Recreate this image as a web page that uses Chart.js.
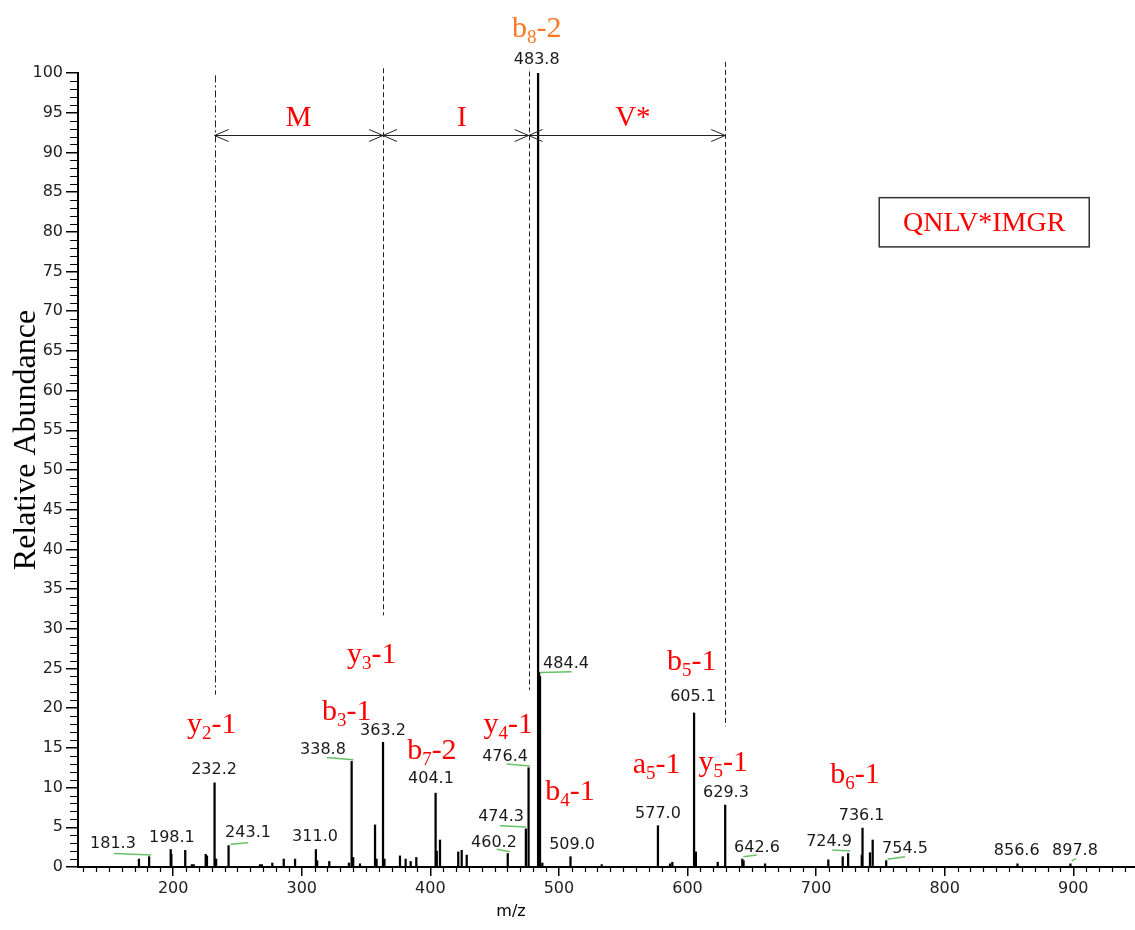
<!DOCTYPE html>
<html>
<head>
<meta charset="utf-8">
<script src="https://cdn.jsdelivr.net/npm/chart.js@4.4.1/dist/chart.umd.min.js"></script>
<style>
  html, body { margin: 0; padding: 0; background: #fff; }
</style>
</head>
<body>
<canvas id="myChart" width="1135" height="930"></canvas>
<script>
// peaks of the spectrum (m/z, relative abundance)
const peakMz = [173.4, 181.3, 198.1, 198.6, 209.4, 214.5, 216.0, 225.3, 226.3, 232.2, 233.4, 243.1,
  267.5, 269.0, 277.1, 286.0, 294.8, 311.0, 312.0, 321.4, 336.7, 338.8, 340.0, 345.3, 357.0, 358.2,
  363.2, 364.3, 376.4, 380.8, 384.7, 389.1, 404.1, 405.0, 407.5, 421.7, 424.4, 428.3, 460.2, 474.3,
  476.4, 483.8, 484.6, 485.3, 487.1, 509.0, 533.3, 577.0, 586.4, 588.2, 605.1, 606.5, 623.5, 629.3,
  642.6, 643.6, 660.3, 709.5, 720.7, 724.9, 735.5, 736.1, 741.9, 744.0, 754.5, 856.6, 897.8];
const peakAbund = [1.0, 1.3, 2.2, 1.6, 2.1, 0.3, 0.3, 1.6, 1.4, 10.6, 1.0, 2.7,
  0.3, 0.3, 0.5, 1.0, 1.0, 2.2, 0.8, 0.7, 0.5, 13.3, 1.2, 0.4, 5.3, 1.0,
  15.7, 1.0, 1.4, 1.0, 0.7, 1.2, 9.3, 2.0, 3.4, 1.9, 2.1, 1.5, 1.7, 4.8,
  12.5, 100, 24.5, 24.0, 0.5, 1.3, 0.3, 5.2, 0.4, 0.6, 19.4, 1.9, 0.6, 7.8,
  1.0, 0.8, 0.4, 0.9, 1.3, 1.7, 1.5, 4.9, 1.8, 3.4, 0.8, 0.4, 0.4];

const xTicks = [200, 300, 400, 500, 600, 700, 800, 900];
const yTicks = [0, 5, 10, 15, 20, 25, 30, 35, 40, 45, 50, 55, 60, 65, 70, 75, 80, 85, 90, 95, 100];

// peak m/z labels, placed in data units
const peakLabels = ['483.8', '484.4', '232.2', '338.8', '363.2', '404.1', '476.4', '474.3', '460.2', '509.0',
  '577.0', '605.1', '629.3', '642.6', '724.9', '736.1', '754.5', '856.6', '897.8', '181.3', '198.1', '243.1', '311.0'];
const peakLabelMz = [482.7, 505.5, 231.8, 316.5, 363.2, 400.5, 458.1, 455.0, 449.5, 510.2,
  577.0, 604.3, 629.9, 654.0, 710.1, 735.4, 769.1, 856.0, 901.3, 153.2, 199.0, 258.2, 310.3];
const peakLabelY = [101.7, 25.6, 12.2, 14.7, 17.2, 11.1, 13.9, 6.3, 3.0, 2.8,
  6.7, 21.4, 9.4, 2.4, 3.2, 6.4, 2.3, 2.0, 2.0, 2.9, 3.7, 4.3, 3.8];

// green connector marks under some labels [mz1, y1, mz2, y2]
const connectors = [[154.0, 1.70, 182.8, 1.51], [244.7, 2.86, 258.4, 3.06], [319.4, 13.8, 340.1, 13.5],
  [459.4, 12.97, 477.5, 12.72], [454.2, 5.2, 474.4, 5.04], [451.6, 2.23, 461.9, 1.93],
  [485.3, 24.5, 509.9, 24.6], [643.4, 1.30, 653.8, 1.51], [712.6, 2.14, 726.4, 2.02],
  [755.4, 0.97, 769.1, 1.30], [898.8, 0.76, 902.1, 1.05]];

// fragment ion names
const ionBase = ['b', 'y', 'y', 'b', 'b', 'y', 'b', 'a', 'y', 'b', 'b'];
const ionSub = ['8', '3', '2', '3', '7', '4', '4', '5', '5', '5', '6'];
const ionSuffix = ['-2', '-1', '-1', '-1', '-2', '-1', '-1', '-1', '-1', '-1', '-1'];
const ionMz = [482.7, 354.4, 230.0, 335.0, 401.2, 460.6, 508.6, 576.0, 627.8, 603.3, 730.2];
const ionY = [105.8, 26.9, 18.1, 19.8, 14.9, 18.1, 9.7, 13.1, 13.3, 26.1, 11.8];
const ionColor = ['#ff7722', 'red', 'red', 'red', 'red', 'red', 'red', 'red', 'red', 'red', 'red'];

// sequence ladder
const ladderMz = [232.2, 363.2, 476.4, 629.3];
const ladderTop = [99.7, 100.6, 100.2, 101.4];
const ladderBottom = [21.7, 31.7, 22.3, 17.7];
const residues = ['M', 'I', 'V*'];
const residueMz = [297.5, 424.5, 557.5];
const residueY = 94.3;
const arrowY = 92.2;

const sequence = 'QNLV*IMGR';

const peakData = peakMz.map((m, i) => ({ x: m, y: peakAbund[i] }));

function drawIon(ctx, i, cx, cy) {
  const big = '30px "Liberation Serif", "Times New Roman", serif';
  const small = '19px "Liberation Serif", "Times New Roman", serif';
  ctx.font = big;
  const w1 = ctx.measureText(ionBase[i]).width;
  const w3 = ctx.measureText(ionSuffix[i]).width;
  ctx.font = small;
  const w2 = ctx.measureText(ionSub[i]).width;
  let x = cx - (w1 + w2 + w3) / 2;
  ctx.fillStyle = ionColor[i];
  ctx.textAlign = 'left';
  ctx.textBaseline = 'alphabetic';
  ctx.font = big;
  ctx.fillText(ionBase[i], x, cy + 10);
  x += w1;
  ctx.font = small;
  ctx.fillText(ionSub[i], x, cy + 16);
  x += w2;
  ctx.font = big;
  ctx.fillText(ionSuffix[i], x, cy + 10);
}

const annotate = {
  id: 'annotate',
  afterDraw(chart) {
    const ctx = chart.ctx;
    const xs = chart.scales.x, ys = chart.scales.y;
    const area = chart.chartArea;
    const px = v => xs.getPixelForValue(v);
    const py = v => ys.getPixelForValue(v);
    ctx.save();

    // minor ticks
    ctx.strokeStyle = '#000';
    ctx.lineWidth = 1.2;
    ctx.beginPath();
    for (let v = 130; v <= 940; v += 10) {
      if (v % 100 === 0) continue;
      const x = Math.round(px(v)) + 0.5;
      ctx.moveTo(x, area.bottom);
      ctx.lineTo(x, area.bottom + 5);
    }
    for (let v = 1; v < 100; v++) {
      if (v % 5 === 0) continue;
      const y = Math.round(py(v)) + 0.5;
      ctx.moveTo(area.left - 8, y);
      ctx.lineTo(area.left, y);
    }
    ctx.stroke();

    // peak labels
    ctx.fillStyle = '#1a1a1a';
    ctx.font = '16px "DejaVu Sans", sans-serif';
    ctx.textAlign = 'center';
    ctx.textBaseline = 'middle';
    peakLabels.forEach((t, i) => ctx.fillText(t, px(peakLabelMz[i]), py(peakLabelY[i])));

    // green connectors
    ctx.strokeStyle = '#66c266';
    ctx.lineWidth = 1.5;
    connectors.forEach(c => {
      ctx.beginPath();
      ctx.moveTo(px(c[0]), py(c[1]));
      ctx.lineTo(px(c[2]), py(c[3]));
      ctx.stroke();
    });

    // ion names
    ionBase.forEach((b, i) => drawIon(ctx, i, px(ionMz[i]), py(ionY[i])));

    // ladder lines
    ctx.strokeStyle = '#222';
    ctx.lineWidth = 1;
    ladderMz.forEach((m, i) => {
      ctx.setLineDash(i === 0 ? [7, 3, 2, 3] : [5, 3]);
      const x = Math.round(px(m)) + 0.5;
      ctx.beginPath();
      ctx.moveTo(x, py(ladderTop[i]));
      ctx.lineTo(x, py(ladderBottom[i]));
      ctx.stroke();
    });
    ctx.setLineDash([]);

    // arrows
    const ay = Math.round(py(arrowY)) + 0.5;
    ctx.strokeStyle = '#222';
    ctx.beginPath();
    ctx.moveTo(px(ladderMz[0]), ay);
    ctx.lineTo(px(ladderMz[ladderMz.length - 1]), ay);
    for (let i = 0; i < ladderMz.length - 1; i++) {
      const a = px(ladderMz[i]), b = px(ladderMz[i + 1]);
      ctx.moveTo(a + 14, ay - 6); ctx.lineTo(a, ay); ctx.lineTo(a + 14, ay + 6);
      ctx.moveTo(b - 14, ay - 6); ctx.lineTo(b, ay); ctx.lineTo(b - 14, ay + 6);
    }
    ctx.stroke();

    ctx.fillStyle = 'red';
    ctx.font = '29px "Liberation Serif", "Times New Roman", serif';
    ctx.textAlign = 'center';
    ctx.textBaseline = 'middle';
    residues.forEach((r, i) => ctx.fillText(r, px(residueMz[i]), py(residueY)));

    // sequence box
    const bx1 = px(749.1), bx2 = px(912.4), by1 = py(84.3), by2 = py(78.1);
    ctx.fillStyle = '#fff';
    ctx.fillRect(bx1, by1, bx2 - bx1, by2 - by1);
    ctx.strokeStyle = '#333';
    ctx.lineWidth = 1.5;
    ctx.strokeRect(bx1, by1, bx2 - bx1, by2 - by1);
    ctx.fillStyle = 'red';
    ctx.font = '28px "Liberation Serif", "Times New Roman", serif';
    ctx.fillText(sequence, (bx1 + bx2) / 2, (by1 + by2) / 2 + 1);

    // axis titles
    ctx.fillStyle = '#000';
    ctx.font = '16px "DejaVu Sans", sans-serif';
    ctx.fillText('m/z', 511, 912);
    ctx.translate(35, 440);
    ctx.rotate(-Math.PI / 2);
    ctx.font = '32px "Liberation Serif", "Times New Roman", serif';
    ctx.textBaseline = 'alphabetic';
    ctx.fillText('Relative Abundance', 0, 0);
    ctx.restore();
  }
};

const tickFont = { family: '"DejaVu Sans", sans-serif', size: 16 };

new Chart(document.getElementById('myChart'), {
  type: 'bar',
  data: {
    datasets: [{
      data: peakData,
      backgroundColor: '#000',
      borderWidth: 0,
      barThickness: 1.6,
      grouped: false
    }]
  },
  options: {
    responsive: false,
    devicePixelRatio: 1,
    animation: false,
    layout: { padding: { top: 73, right: 0, left: 0, bottom: 0 } },
    plugins: { legend: { display: false }, tooltip: { enabled: false } },
    scales: {
      x: {
        type: 'linear',
        min: 126,
        max: 948,
        offset: false,
        afterBuildTicks: s => { s.ticks = xTicks.map(v => ({ value: v })); },
        afterFit: s => { s.height = 63; },
        grid: { offset: false, drawOnChartArea: false, drawTicks: true, tickLength: 9, color: '#000', lineWidth: 1.5 },
        border: { color: '#000', width: 2 },
        ticks: { font: tickFont, color: '#222', padding: 3, maxRotation: 0, autoSkip: false }
      },
      y: {
        min: 0,
        max: 100,
        afterBuildTicks: s => { s.ticks = yTicks.map(v => ({ value: v })); },
        afterFit: s => { s.width = 78; },
        grid: { drawOnChartArea: false, drawTicks: true, tickLength: 12, color: '#000', lineWidth: 1.5 },
        border: { color: '#000', width: 2 },
        ticks: { font: tickFont, color: '#222', padding: 3, autoSkip: false }
      }
    }
  },
  plugins: [annotate]
});
</script>
</body>
</html>
